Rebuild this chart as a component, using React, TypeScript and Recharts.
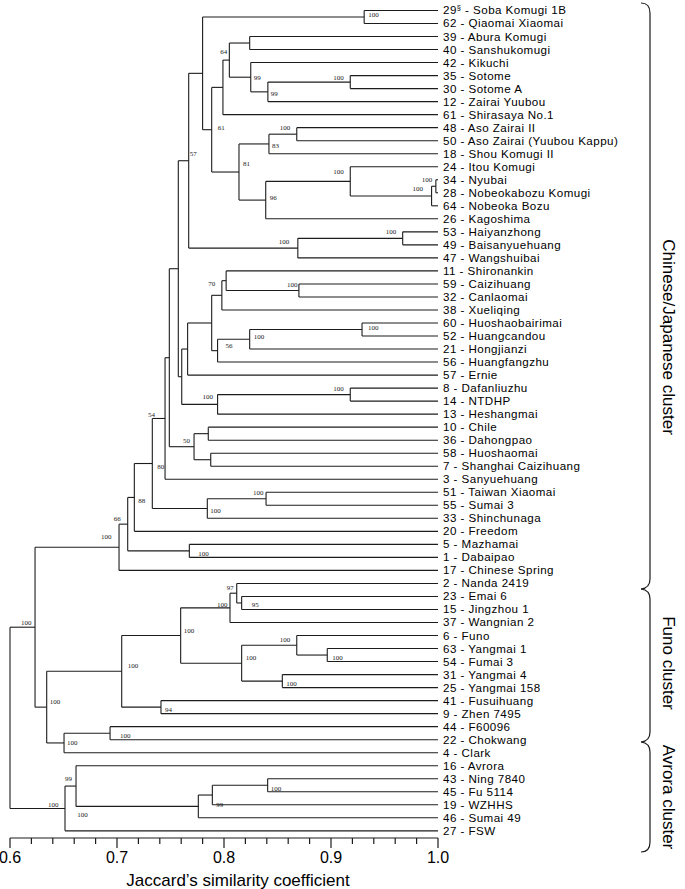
import React from "react";
import { ComposedChart, XAxis, YAxis, ReferenceLine, Scatter, Customized } from "recharts";

const leafNames = [
  "29§ - Soba Komugi 1B", "62 - Qiaomai Xiaomai", "39 - Abura Komugi", "40 - Sanshukomugi",
  "42 - Kikuchi", "35 - Sotome", "30 - Sotome A", "12 - Zairai Yuubou", "61 - Shirasaya No.1",
  "48 - Aso Zairai II", "50 - Aso Zairai (Yuubou Kappu)", "18 - Shou Komugi II", "24 - Itou Komugi",
  "34 - Nyubai", "28 - Nobeokabozu Komugi", "64 - Nobeoka Bozu", "26 - Kagoshima", "53 - Haiyanzhong",
  "49 - Baisanyuehuang", "47 - Wangshuibai", "11 - Shironankin", "59 - Caizihuang", "32 - Canlaomai",
  "38 - Xueliqing", "60 - Huoshaobairimai", "52 - Huangcandou", "21 - Hongjianzi", "56 - Huangfangzhu",
  "57 - Ernie", "8 - Dafanliuzhu", "14 - NTDHP", "13 - Heshangmai", "10 - Chile", "36 - Dahongpao",
  "58 - Huoshaomai", "7 - Shanghai Caizihuang", "3 - Sanyuehuang", "51 - Taiwan Xiaomai", "55 - Sumai 3",
  "33 - Shinchunaga", "20 - Freedom", "5 - Mazhamai", "1 - Dabaipao", "17 - Chinese Spring",
  "2 - Nanda 2419", "23 - Emai 6", "15 - Jingzhou 1", "37 - Wangnian 2", "6 - Funo", "63 - Yangmai 1",
  "54 - Fumai 3", "31 - Yangmai 4", "25 - Yangmai 158", "41 - Fusuihuang", "9 - Zhen 7495",
  "44 - F60096", "22 - Chokwang", "4 - Clark", "16 - Avrora", "43 - Ning 7840", "45 - Fu 5114",
  "19 - WZHHS", "46 - Sumai 49", "27 - FSW",
];

// [node, left child, right child, Jaccard similarity, bootstrap %]
const merges: [string, string, string, number, number | null][] = [
  ["n1", "L0", "L1", 0.931, 100],
  ["n2", "L2", "L3", 0.824, null],
  ["n3", "L5", "L6", 0.918, 100],
  ["n4", "n3", "L7", 0.841, 99],
  ["n5", "L4", "n4", 0.825, 99],
  ["n6", "n2", "n5", 0.805, 64],
  ["n7", "n6", "L8", 0.799, null],
  ["n8", "L9", "L10", 0.868, 100],
  ["n9", "n8", "L11", 0.842, 83],
  ["n10", "L13", "L14", 0.998, 100],
  ["n11", "n10", "L15", 0.994, 100],
  ["n12", "L12", "n11", 0.918, 100],
  ["n13", "n12", "L16", 0.839, 96],
  ["n14", "n9", "n13", 0.814, 81],
  ["n15", "n7", "n14", 0.7885, 61],
  ["n16", "n1", "n15", 0.78, null],
  ["n17", "L17", "L18", 0.967, 100],
  ["n18", "n17", "L19", 0.869, 100],
  ["n19", "n16", "n18", 0.767, 57],
  ["n21", "L21", "L22", 0.87, 100],
  ["n22", "L20", "n21", 0.802, 70],
  ["n23", "n22", "L23", 0.798, null],
  ["n24", "L24", "L25", 0.929, 100],
  ["n25", "n24", "L26", 0.824, 100],
  ["n26", "n25", "L27", 0.794, 56],
  ["n27", "n23", "n26", 0.7885, null],
  ["n28", "n27", "L28", 0.766, null],
  ["n29", "L29", "L30", 0.918, 100],
  ["n30", "n29", "L31", 0.794, 100],
  ["n31", "n28", "n30", 0.7605, null],
  ["n20", "n19", "n31", 0.7573, null],
  ["n32", "L32", "L33", 0.7853, null],
  ["n33", "L34", "L35", 0.7876, null],
  ["n34", "n32", "n33", 0.772, 50],
  ["nQ", "n20", "n34", 0.7489, null],
  ["nR", "nQ", "L36", 0.7449, 54],
  ["n38", "L37", "L38", 0.8393, 100],
  ["n39", "n38", "L39", 0.7844, 100],
  ["nS", "nR", "n39", 0.733, 80],
  ["nT", "nS", "L40", 0.7162, 88],
  ["n40", "L41", "L42", 0.7676, 100],
  ["nU", "nT", "n40", 0.71, 66],
  ["nV", "nU", "L43", 0.7019, 100],
  ["n41", "L45", "L46", 0.8165, 95],
  ["n42", "L44", "n41", 0.8119, 97],
  ["n43", "n42", "L47", 0.8056, 100],
  ["n45", "L49", "L50", 0.8965, 100],
  ["n46", "L48", "n45", 0.868, 100],
  ["n47", "L51", "L52", 0.8545, 100],
  ["n48", "n46", "n47", 0.8165, 100],
  ["n49", "n43", "n48", 0.7595, 100],
  ["n50", "L53", "L54", 0.7411, 94],
  ["n51", "n49", "n50", 0.7044, 100],
  ["n52", "L55", "L56", 0.6935, 100],
  ["n53", "n52", "L57", 0.6505, 100],
  ["n54", "n51", "n53", 0.6343, 100],
  ["nW", "nV", "n54", 0.6234, 100],
  ["n55", "L59", "L60", 0.8408, 100],
  ["n56", "n55", "L61", 0.7891, 99],
  ["n57", "n56", "L62", 0.776, 100],
  ["n58", "L58", "n57", 0.6617, 99],
  ["n59", "n58", "L63", 0.6514, 100],
  ["root", "nW", "n59", 0.6, null],
];

const axisTicks = [
  0.6, 0.62, 0.64, 0.66, 0.68, 0.7, 0.72, 0.74, 0.76, 0.78, 0.8,
  0.82, 0.84, 0.86, 0.88, 0.9, 0.92, 0.94, 0.96, 0.98, 1.0,
];
const majorTicks = [0.6, 0.7, 0.8, 0.9, 1.0];
const leafTicks = leafNames.map((_, i) => i);

// where each bootstrap value sits, px from its node
const supportOffset: Record<string, [number, number]> = {
  n1: [4, -2], n3: [-17, -5], n4: [3, 2], n5: [3, 0], n6: [-9, -9], n8: [-17, -7],
  n9: [3, 2], n10: [-14, -7], n11: [-19, -8], n12: [-17, -10], n13: [4, -3], n14: [4, -9],
  n15: [6, -2], n17: [-17, -7], n18: [-19, -7], n19: [1, -7], n21: [-12, -6], n22: [-18, 3],
  n24: [6, -2], n25: [4, -3], n26: [8, -5], n29: [-17, -6], n30: [-15, -8], n34: [-11, -6],
  nR: [-17, -4], n38: [-13, -6], n39: [3, 2], nS: [5, 3], nT: [4, 3], n40: [9, 3],
  nU: [-14, -6], nV: [-18, -11], n41: [10, 2], n42: [-10, -6], n43: [-13, -3], n45: [5, 2],
  n46: [-17, -6], n47: [4, 2], n48: [4, -6], n49: [3, -5], n50: [4, 2], n51: [6, -6],
  n52: [10, 2], n53: [3, 0], n54: [3, -6], nW: [-14, -5], n55: [3, 3], n56: [4, 9],
  n57: [-121, 8], n58: [-11, -8], n59: [-17, -4],
};

const clusters = [
  { label: "Chinese/Japanese cluster", top: 3, bottom: 589, mid: 337 },
  { label: "Funo cluster", top: 589, bottom: 742, mid: 663 },
  { label: "Avrora cluster", top: 742, bottom: 852, mid: 797 },
];

const INK = "#1c1c1c";
const SANS = "'Liberation Sans', Arial, Helvetica, sans-serif";

function buildTree() {
  const pos: Record<string, { x: number; y: number }> = {};
  leafNames.forEach((_, i) => (pos["L" + i] = { x: 1.0, y: i }));
  const segments: { x: number; y: number }[][] = [];
  const supports: { x: number; y: number; text: string; dx: number; dy: number }[] = [];
  merges.forEach(([id, a, b, h, s]) => {
    const pa = pos[a];
    const pb = pos[b];
    segments.push([{ x: h, y: pa.y }, { x: pa.x, y: pa.y }]);
    segments.push([{ x: h, y: pb.y }, { x: pb.x, y: pb.y }]);
    segments.push([{ x: h, y: pa.y }, { x: h, y: pb.y }]);
    pos[id] = { x: h, y: (pa.y + pb.y) / 2 };
    if (s !== null) {
      const [dx, dy] = supportOffset[id] || [3, 0];
      supports.push({ x: h, y: pos[id].y, text: String(s), dx, dy });
    }
  });
  return { segments, supports };
}

const { segments, supports } = buildTree();

function LeafTick(props: any) {
  const { x, y, payload } = props;
  const name: string = leafNames[Math.round(payload.value)] || "";
  const mark = name.indexOf("§");
  return (
    <text
      x={x}
      y={y}
      dy={4}
      textAnchor="start"
      fontSize={11.6}
      letterSpacing={0.45}
      fontFamily={SANS}
      fill="#000"
    >
      {mark >= 0 ? (
        <>
          {name.slice(0, mark)}
          <tspan fontSize={7.5} dy={-4.5}>§</tspan>
          <tspan dy={4.5}>{name.slice(mark + 1)}</tspan>
        </>
      ) : (
        name
      )}
    </text>
  );
}

function SimTick(props: any) {
  const { x, y, payload } = props;
  const v = payload.value as number;
  const major = majorTicks.some((m) => Math.abs(m - v) < 1e-6);
  return (
    <g>
      <line x1={x} x2={x} y1={y} y2={y + (major ? 10 : 6)} stroke={INK} strokeWidth={1.2} />
      {major && (
        <text x={x} y={y + 25} textAnchor="middle" fontSize={16} fontFamily={SANS} fill="#000">
          {v.toFixed(1)}
        </text>
      )}
    </g>
  );
}

function SupportLabel(props: any) {
  const { cx, cy, payload } = props;
  if (cx == null || cy == null) return null;
  return (
    <text
      x={cx + payload.dx}
      y={cy + payload.dy + 2.5}
      fontSize={7}
      fontFamily="'Liberation Serif', 'Times New Roman', serif"
      fill="#222"
    >
      {payload.text}
    </text>
  );
}

function Decorations() {
  const bx = 650;
  const tip = 641;
  const brace = (y0: number, y1: number, first: boolean, last: boolean) => {
    const start = first
      ? `M${tip},${y0} Q${bx},${y0} ${bx},${y0 + 10}`
      : `M${tip},${y0} Q${bx},${y0 + 1} ${bx},${y0 + 10}`;
    const end = last
      ? `L${bx},${y1 - 10} Q${bx},${y1} ${tip},${y1}`
      : `L${bx},${y1 - 10} Q${bx},${y1 - 1} ${tip},${y1}`;
    return start + " " + end;
  };
  return (
    <g>
      {clusters.map((c, i) => (
        <g key={c.label}>
          <path
            d={brace(c.top, c.bottom, i === 0, i === clusters.length - 1)}
            fill="none"
            stroke={INK}
            strokeWidth={1.2}
          />
          <text
            x={668}
            y={c.mid}
            transform={`rotate(90 668 ${c.mid})`}
            textAnchor="middle"
            dominantBaseline="central"
            fontSize={17}
            fontFamily={SANS}
            fill="#000"
          >
            {c.label}
          </text>
        </g>
      ))}
      <text x={238} y={886} textAnchor="middle" fontSize={17} fontFamily={SANS} fill="#000">
        Jaccard’s similarity coefficient
      </text>
    </g>
  );
}

export default function App() {
  return (
    <div style={{ position: "absolute", left: 0, top: 0, background: "#fff" }}>
      <ComposedChart width={685} height={889} margin={{ top: 5, right: 0, bottom: 0, left: 10 }}>
        <XAxis
          type="number"
          dataKey="x"
          domain={[0.6, 1.0]}
          ticks={axisTicks}
          interval={0}
          allowDataOverflow
          height={51}
          tickSize={0}
          tickMargin={0}
          tickLine={false}
          axisLine={{ stroke: INK, strokeWidth: 1.2 }}
          tick={<SimTick />}
        />
        <YAxis
          type="number"
          dataKey="y"
          orientation="right"
          reversed
          domain={[-0.42, 63.55]}
          allowDataOverflow
          ticks={leafTicks}
          interval={0}
          width={247}
          tickSize={0}
          tickMargin={5}
          axisLine={false}
          tickLine={false}
          tick={<LeafTick />}
        />
        {segments.map((seg, i) => (
          <ReferenceLine key={i} segment={seg} stroke={INK} strokeWidth={1.1} ifOverflow="visible" />
        ))}
        <Scatter data={supports} dataKey="y" isAnimationActive={false} shape={<SupportLabel />} />
        <Customized component={Decorations} />
      </ComposedChart>
    </div>
  );
}
